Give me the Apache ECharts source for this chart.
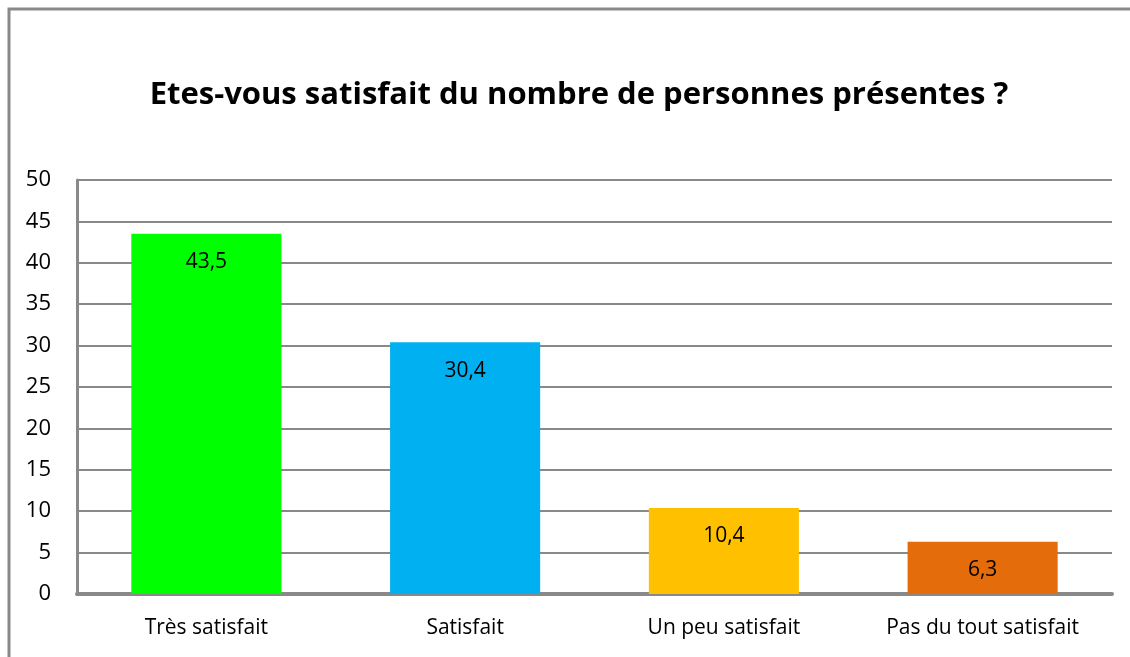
<!DOCTYPE html>
<html><head><meta charset="utf-8">
<script src="https://cdn.jsdelivr.net/npm/echarts@6/dist/echarts.min.js"></script>
<style>html,body{margin:0;padding:0;background:#fff}#c{width:1130px;height:657px}</style>
</head><body><div id="c"></div>
<script>
const categories = ['Très satisfait', 'Satisfait', 'Un peu satisfait', 'Pas du tout satisfait'];
const values = [43.5, 30.4, 10.4, 6.3];
const barColors = ['#00FF00', '#00B0F0', '#FFC000', '#E46C0A'];
const titleText = 'Etes-vous satisfait du nombre de personnes présentes ?';

const FONT = '"Open Sans", Lato, sans-serif';
const chart = echarts.init(document.getElementById('c'), null, {renderer: 'canvas'});
chart.setOption({
  animation: false,
  backgroundColor: '#fff',
  title: {
    text: titleText, left: 574, top: 75, textAlign: 'center',
    textStyle: {fontFamily: FONT, fontSize: 31, fontWeight: 'bold', color: '#000'}
  },
  graphic: [{
    type: 'rect', shape: {x: 9, y: 9, width: 1300, height: 800},
    style: {fill: 'none', stroke: '#898989', lineWidth: 3}, silent: true, z: 100
  }],
  grid: {left: 77, right: 18, top: 180, bottom: 63, containLabel: false},
  xAxis: {
    type: 'category', data: categories,
    axisLine: {show: true, lineStyle: {color: '#898989', width: 4}},
    axisTick: {show: false},
    axisLabel: {color: '#000', fontSize: 21, fontFamily: FONT, margin: 24, interval: 0, hideOverlap: false}
  },
  yAxis: {
    type: 'value', min: 0, max: 50, interval: 5,
    axisLine: {show: true, lineStyle: {color: '#898989', width: 3}},
    axisTick: {show: false},
    splitLine: {show: true, lineStyle: {color: '#898989', width: 2}},
    axisLabel: {color: '#000', fontSize: 22, fontFamily: FONT, margin: 26}
  },
  series: [{
    type: 'bar', barWidth: '58%',
    data: values.map((v, i) => ({value: v, itemStyle: {color: barColors[i]}})),
    label: {
      show: true, position: 'insideTop', distance: 18, color: '#000',
      fontSize: 21, fontFamily: FONT,
      formatter: p => String(p.value).replace('.', ',')
    }
  }]
});
</script></body></html>
